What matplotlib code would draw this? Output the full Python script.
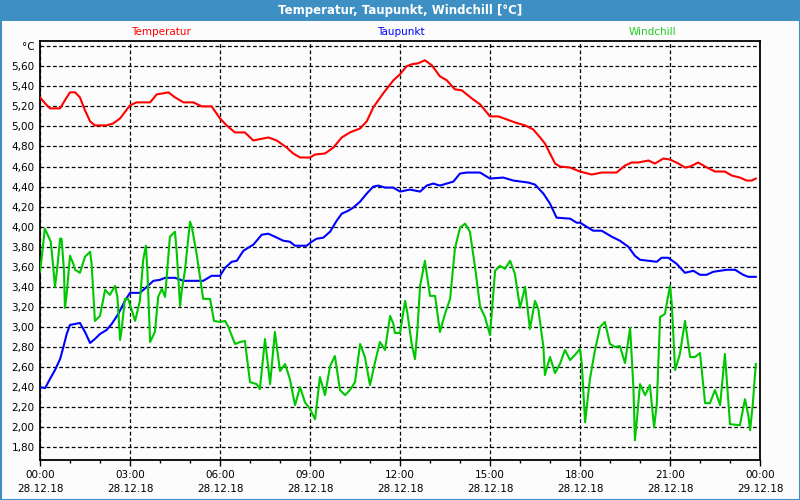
import matplotlib
matplotlib.use("Agg")
import matplotlib.pyplot as plt
from matplotlib.patches import Rectangle
from matplotlib.ticker import MultipleLocator, FuncFormatter

# ---------------- data (hours since 28.12.18 00:00, °C) ----------------
temp_h = [0.00, 0.17, 0.33, 0.67, 0.83, 1.00, 1.17, 1.33, 1.50, 1.67,
          1.83, 2.22, 2.44, 2.67, 3.00, 3.22, 3.67, 3.89, 4.11, 4.28,
          4.50, 4.78, 5.11, 5.39, 5.72, 6.00, 6.22, 6.50, 6.83, 7.11,
          7.28, 7.61, 7.89, 8.22, 8.44, 8.67, 9.00, 9.17, 9.50, 9.78,
          10.06, 10.33, 10.67, 10.89, 11.11, 11.44, 11.78, 12.00, 12.22, 12.39,
          12.61, 12.83, 13.06, 13.33, 13.56, 13.83, 14.06, 14.39, 14.67, 15.00,
          15.28, 15.56, 15.83, 16.17, 16.44, 16.67, 16.83, 17.17, 17.33, 17.67,
          18.00, 18.39, 18.72, 19.22, 19.50, 19.72, 19.94, 20.28, 20.50, 20.78,
          21.00, 21.28, 21.50, 21.67, 21.94, 22.17, 22.50, 22.83, 23.06, 23.33,
          23.56, 23.72, 23.86]
temp_v = [5.29, 5.23, 5.18, 5.18, 5.26, 5.34, 5.34, 5.29, 5.16, 5.05,
          5.01, 5.01, 5.03, 5.08, 5.21, 5.24, 5.24, 5.32, 5.33, 5.34,
          5.29, 5.24, 5.24, 5.20, 5.20, 5.08, 5.01, 4.94, 4.94, 4.86,
          4.87, 4.89, 4.86, 4.79, 4.73, 4.69, 4.69, 4.72, 4.73, 4.79,
          4.89, 4.94, 4.98, 5.05, 5.19, 5.33, 5.46, 5.52, 5.60, 5.62,
          5.63, 5.66, 5.61, 5.50, 5.46, 5.37, 5.36, 5.28, 5.22, 5.10,
          5.10, 5.07, 5.04, 5.01, 4.97, 4.89, 4.83, 4.63, 4.60, 4.59,
          4.55, 4.52, 4.54, 4.54, 4.61, 4.64, 4.64, 4.66, 4.63, 4.68,
          4.67, 4.63, 4.59, 4.60, 4.64, 4.60, 4.55, 4.55, 4.51, 4.49,
          4.46, 4.46, 4.48]

dew_h = [0.00, 0.17, 0.33, 0.50, 0.67, 0.78, 0.89, 1.00, 1.17, 1.33,
         1.50, 1.67, 1.83, 2.00, 2.22, 2.39, 2.61, 2.83, 3.00, 3.33,
         3.56, 3.78, 4.00, 4.17, 4.50, 4.78, 5.22, 5.44, 5.72, 6.00,
         6.17, 6.39, 6.56, 6.78, 6.94, 7.11, 7.39, 7.61, 7.83, 8.11,
         8.33, 8.50, 8.89, 9.06, 9.22, 9.44, 9.67, 9.89, 10.06, 10.28,
         10.44, 10.67, 10.89, 11.11, 11.28, 11.50, 11.78, 12.00, 12.33, 12.67,
         12.89, 13.11, 13.33, 13.78, 14.00, 14.22, 14.67, 15.00, 15.44, 15.78,
         16.28, 16.50, 16.78, 17.00, 17.22, 17.67, 17.89, 18.00, 18.44, 18.72,
         19.06, 19.33, 19.61, 19.83, 20.00, 20.28, 20.56, 20.72, 20.94, 21.22,
         21.50, 21.78, 22.00, 22.22, 22.44, 22.89, 23.17, 23.44, 23.61, 23.86]
dew_v = [2.40, 2.39, 2.48, 2.57, 2.68, 2.80, 2.93, 3.02, 3.03, 3.04,
         2.95, 2.84, 2.88, 2.93, 2.97, 3.03, 3.13, 3.26, 3.34, 3.34,
         3.40, 3.46, 3.47, 3.49, 3.49, 3.46, 3.46, 3.46, 3.51, 3.51,
         3.59, 3.65, 3.66, 3.76, 3.79, 3.82, 3.92, 3.93, 3.90, 3.86,
         3.85, 3.81, 3.81, 3.85, 3.88, 3.89, 3.95, 4.06, 4.13, 4.16,
         4.19, 4.25, 4.33, 4.40, 4.41, 4.39, 4.39, 4.35, 4.37, 4.35,
         4.41, 4.43, 4.41, 4.45, 4.53, 4.54, 4.54, 4.48, 4.49, 4.46,
         4.44, 4.42, 4.33, 4.23, 4.09, 4.08, 4.04, 4.04, 3.96, 3.96,
         3.90, 3.86, 3.80, 3.71, 3.67, 3.66, 3.65, 3.69, 3.69, 3.63,
         3.54, 3.56, 3.52, 3.52, 3.55, 3.57, 3.57, 3.52, 3.50, 3.50]

wind_h = [0.00, 0.06, 0.16, 0.24, 0.36, 0.44, 0.50, 0.58, 0.67, 0.72,
          0.80, 0.83, 0.89, 1.00, 1.11, 1.17, 1.33, 1.50, 1.67, 1.72,
          1.83, 2.00, 2.17, 2.33, 2.50, 2.58, 2.67, 2.72, 2.83, 2.94,
          3.17, 3.33, 3.44, 3.53, 3.58, 3.67, 3.83, 3.94, 4.06, 4.17,
          4.33, 4.50, 4.56, 4.67, 4.72, 4.83, 5.00, 5.06, 5.22, 5.44,
          5.67, 5.80, 6.00, 6.17, 6.28, 6.50, 6.67, 6.83, 7.00, 7.22,
          7.33, 7.50, 7.67, 7.83, 8.00, 8.17, 8.33, 8.50, 8.67, 8.83,
          9.00, 9.17, 9.33, 9.50, 9.67, 9.83, 10.00, 10.17, 10.33, 10.50,
          10.67, 10.83, 11.00, 11.17, 11.33, 11.50, 11.67, 11.78, 11.83, 12.00,
          12.17, 12.24, 12.39, 12.50, 12.58, 12.67, 12.83, 13.00, 13.17, 13.33,
          13.50, 13.67, 13.83, 14.00, 14.17, 14.33, 14.50, 14.67, 14.83, 15.00,
          15.17, 15.33, 15.50, 15.67, 15.83, 16.00, 16.17, 16.33, 16.50, 16.61,
          16.78, 16.83, 17.00, 17.17, 17.33, 17.50, 17.67, 17.83, 18.00, 18.06,
          18.17, 18.33, 18.50, 18.67, 18.83, 19.00, 19.17, 19.33, 19.50, 19.67,
          19.78, 19.83, 19.91, 20.00, 20.17, 20.33, 20.47, 20.56, 20.67, 20.83,
          21.00, 21.06, 21.17, 21.33, 21.50, 21.67, 21.83, 22.00, 22.17, 22.33,
          22.50, 22.67, 22.83, 23.00, 23.33, 23.50, 23.61, 23.67, 23.76, 23.86]
wind_v = [3.55, 3.70, 3.98, 3.93, 3.85, 3.60, 3.40, 3.60, 3.88, 3.88,
          3.56, 3.19, 3.33, 3.71, 3.63, 3.57, 3.54, 3.70, 3.75, 3.63,
          3.06, 3.11, 3.37, 3.32, 3.41, 3.30, 2.87, 2.97, 3.28, 3.28,
          3.06, 3.26, 3.67, 3.81, 3.56, 2.85, 2.95, 3.30, 3.38, 3.30,
          3.90, 3.95, 3.73, 3.21, 3.35, 3.56, 4.05, 4.00, 3.73, 3.28,
          3.28, 3.06, 3.05, 3.06, 3.00, 2.83, 2.85, 2.86, 2.45, 2.43,
          2.38, 2.88, 2.43, 2.95, 2.56, 2.63, 2.48, 2.22, 2.40, 2.25,
          2.18, 2.08, 2.50, 2.32, 2.61, 2.71, 2.37, 2.32, 2.37, 2.45,
          2.83, 2.70, 2.42, 2.65, 2.85, 2.77, 3.11, 3.03, 2.94, 2.94,
          3.26, 3.15, 2.83, 2.68, 2.97, 3.41, 3.66, 3.31, 3.31, 2.95,
          3.13, 3.28, 3.78, 3.99, 4.03, 3.95, 3.60, 3.20, 3.10, 2.92,
          3.56, 3.61, 3.58, 3.66, 3.53, 3.19, 3.40, 2.98, 3.26, 3.18,
          2.80, 2.52, 2.70, 2.54, 2.63, 2.77, 2.67, 2.72, 2.78, 2.63,
          2.05, 2.48, 2.77, 3.00, 3.05, 2.83, 2.80, 2.81, 2.64, 2.99,
          2.40, 1.87, 2.12, 2.43, 2.32, 2.42, 2.00, 2.23, 3.10, 3.13,
          3.41, 3.23, 2.57, 2.73, 3.06, 2.70, 2.70, 2.74, 2.24, 2.24,
          2.37, 2.22, 2.73, 2.03, 2.02, 2.28, 2.12, 1.97, 2.23, 2.63]

series_names = ["Temperatur", "Taupunkt", "Windchill"]
series_colors = ["#ff0000", "#0000ff", "#00c800"]
label_colors = ["#ff0000", "#0000ff", "#22cc22"]

x_ticks = [0, 3, 6, 9, 12, 15, 18, 21, 24]
x_labels = ["00:00\n28.12.18", "03:00\n28.12.18", "06:00\n28.12.18", "09:00\n28.12.18",
            "12:00\n28.12.18", "15:00\n28.12.18", "18:00\n28.12.18", "21:00\n28.12.18",
            "00:00\n29.12.18"]
title = "Temperatur, Taupunkt, Windchill [°C]"
unit = "°C"

# ---------------- figure ----------------
plt.rcParams["font.family"] = ["DejaVu Sans"]
W, H = 800, 500
fig = plt.figure(figsize=(8, 5), dpi=100, facecolor="#fbfcfb")

def fx(px):
    return px / W

def fy(py):
    return 1 - py / H

# title bar and frame
fig.patches.append(Rectangle((0, fy(21)), 1, 21 / H, transform=fig.transFigure,
                             facecolor="#3d8fc4", edgecolor="none", zorder=0))
fig.patches.append(Rectangle((0.5 / W, 0.5 / H), 1 - 1 / W, 1 - 1 / H, transform=fig.transFigure,
                             facecolor="none", edgecolor="#3d8fc4", linewidth=1.5, zorder=5))
fig.text(0.5, fy(10.5), title, color="white", fontsize=8.5, fontweight="bold",
         ha="center", va="center")

ax = fig.add_axes([fx(40), fy(460), fx(720), (460 - 41) / H])
ax.set_facecolor("#fbfcfb")

for xs, ys, c in zip([temp_h, dew_h, wind_h], [temp_v, dew_v, wind_v], series_colors):
    ax.plot(xs, ys, color=c, linewidth=1.5, zorder=3)

ax.set_xlim(0, 24)
ax.set_ylim(1.673, 5.852)


def yfmt(v, p):
    if abs(v - 5.8) < 1e-6:
        return unit
    return f"{v:.2f}".replace(".", ",")


ax.yaxis.set_major_locator(MultipleLocator(0.2))
ax.yaxis.set_major_formatter(FuncFormatter(yfmt))
ax.set_xticks(x_ticks)
ax.set_xticklabels(x_labels, linespacing=1.55)
ax.xaxis.set_minor_locator(MultipleLocator(1))

ax.tick_params(axis="y", length=0, pad=4, labelsize=7.5)
ax.tick_params(axis="x", which="major", length=4, width=1, pad=3, labelsize=7.5)
ax.tick_params(axis="x", which="minor", length=2, width=1)

ax.grid(True, which="major", color="black", linestyle=(0, (3, 2)), linewidth=0.9)
for s in ax.spines.values():
    s.set_linewidth(1.3)
    s.set_color("black")

# legend texts
for name, col, xp in zip(series_names, label_colors, [161, 401, 652]):
    fig.text(fx(xp), fy(32), name, color=col, fontsize=7.5, ha="center", va="center")

fig.savefig("out.png", dpi=100, facecolor=fig.get_facecolor())
